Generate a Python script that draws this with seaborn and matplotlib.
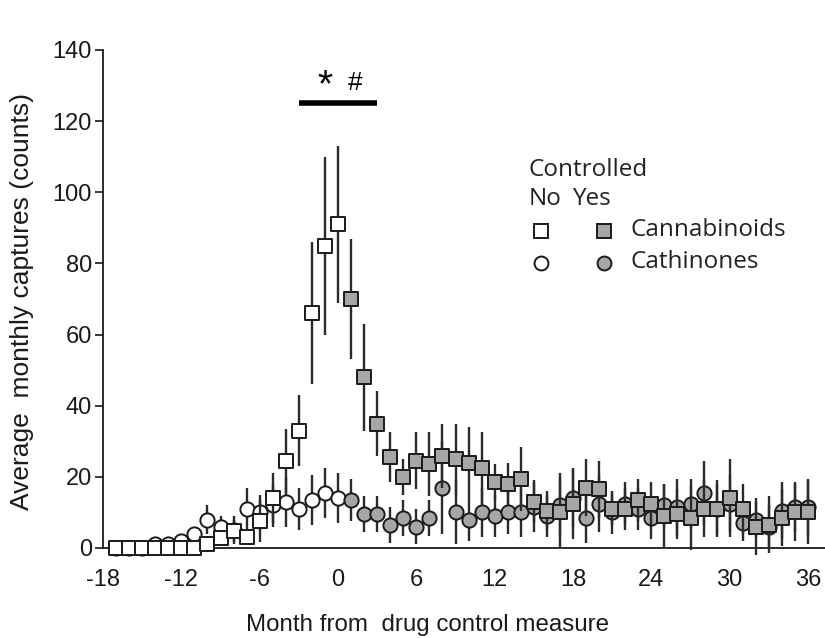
import numpy as np
import pandas as pd
import matplotlib
matplotlib.use("Agg")
import matplotlib.pyplot as plt
import seaborn as sns

# ---- data ----
months = list(range(-17, 37))
cannabinoids = [0, 0, 0, 0, 0, 0, 0, 1, 2.7, 4.8, 3.1, 7.6, 14, 24.5, 33, 66, 85, 91,
                70, 48, 35, 25.5, 20, 24.5, 23.5, 26, 25, 24, 22.5, 18.5, 18, 19.5,
                13, 10.5, 10, 12.5, 17, 16.5, 11, 11, 13.5, 12.5, 9, 9.5, 8.5, 11, 11,
                14, 11, 6, 6.5, 8.5, 10, 10]
cannabinoids_err = [0, 0, 0, 0, 0, 0, 0, 0.5, 1.5, 3, 2, 6, 7, 9, 10, 20, 25, 22,
                    17, 15, 9, 7, 5, 8, 9, 9, 10, 10, 10, 5, 6, 9,
                    6, 5.5, 10, 10, 8, 8, 4.5, 6, 6, 6, 9, 7, 9, 8, 8,
                    11, 7, 8, 8, 8, 8, 9]
cathinones = [0, 0, 0, 1, 1, 2, 4, 8, 6, 5, 11, 10, 12, 13, 11, 13.5, 15.5, 14,
              13.5, 9.5, 9.5, 6.5, 8.5, 6, 8.5, 17, 10, 8, 10, 9, 10, 10,
              11.5, 9, 12, 14, 8.5, 12.5, 10, 12.5, 11, 8.5, 12, 11.5, 12.5, 15.5, 11,
              12.5, 7, 8, 6, 10.5, 11.5, 11.5]
cathinones_err = [0, 0, 0, 0.5, 0.5, 1, 2, 4, 3, 4, 6, 5, 6, 7, 6, 7, 7, 7,
                  6, 5, 5, 5, 5, 5, 5, 13, 9, 6, 7, 6, 6, 7,
                  7, 6, 9, 8, 7, 8, 6, 6, 6, 6, 6, 8, 7, 9, 7,
                  8, 5, 5, 6, 8, 7, 8]
x_ticks = [-18, -12, -6, 0, 6, 12, 18, 24, 30, 36]
y_ticks = [0, 20, 40, 60, 80, 100, 120, 140]

df = pd.DataFrame({
    "month": months * 2,
    "value": cannabinoids + cathinones,
    "err": cannabinoids_err + cathinones_err,
    "drug": ["Cannabinoids"] * len(months) + ["Cathinones"] * len(months),
})
df["controlled"] = np.where(df["month"] >= 1, "Yes", "No")

sns.set_style("ticks")
plt.rcParams["font.family"] = ["Liberation Sans", "DejaVu Sans"]
plt.rcParams["axes.unicode_minus"] = False

fig = plt.figure(figsize=(8.25, 6.38), dpi=100)
ax = fig.add_axes([103 / 825, 1 - 548 / 638, 1 - 103 / 825, (548 - 50) / 638])

edge = "#1a1a1a"
gray = "#a6a6a6"
txt = "#1a1a1a"

# error bars
for drug, z in [("Cathinones", 1), ("Cannabinoids", 3)]:
    d = df[df["drug"] == drug]
    ax.errorbar(d["month"], d["value"], yerr=d["err"], fmt="none",
                ecolor="#2a2a2a", elinewidth=1.7, capsize=0, zorder=z, clip_on=False)

markers = {"Cannabinoids": "s", "Cathinones": "o"}
zord = {"Cannabinoids": 4, "Cathinones": 2}
for drug in ["Cathinones", "Cannabinoids"]:
    for ctrl, fc in [("No", "white"), ("Yes", gray)]:
        d = df[(df["drug"] == drug) & (df["controlled"] == ctrl)]
        sns.scatterplot(data=d, x="month", y="value", ax=ax, marker=markers[drug],
                        s=105, color=fc, edgecolor=edge, linewidth=1.4,
                        zorder=zord[drug], clip_on=False, legend=False)

ax.set_xlim(-18, 37.3)
ax.set_ylim(0, 140)
ax.set_xticks(x_ticks)
ax.set_yticks(y_ticks)
ax.tick_params(axis="x", length=0, labelsize=17, pad=15, colors=txt)
ax.tick_params(axis="y", length=6, width=1.2, labelsize=17, pad=2, colors=txt)
ax.set_xlabel("")
ax.set_ylabel("")
for s in ["top", "right"]:
    ax.spines[s].set_visible(False)
for s in ["left", "bottom"]:
    ax.spines[s].set_linewidth(1.3)
    ax.spines[s].set_color(txt)

fig.text(428 / 825, 1 - 625 / 638, "Month from  drug control measure", ha="center",
         va="center", fontsize=17.4, color=txt)
fig.text(22 / 825, 1 - 302 / 638, "Average  monthly captures (counts)", ha="center",
         va="center", rotation=90, fontsize=19, color=txt)

# significance bar
ax.plot([-3, 3], [125, 125], color="black", lw=4, solid_capstyle="butt", clip_on=False)
ax.text(-1.0, 129.8, "*", ha="center", va="center", fontsize=28, color="black")
ax.text(1.3, 130.8, "#", ha="center", va="center", fontsize=19, color="black")

# legend (manual)
lf = ["Open Sans", "DejaVu Sans"]
def fx(px):
    return px / 825
def fy(py):
    return 1 - py / 638
lfs = 17.5
lc = "#222222"
fig.text(fx(529), fy(170), "Controlled", fontsize=lfs, family=lf, va="center", color=lc)
fig.text(fx(529), fy(199), "No", fontsize=lfs, family=lf, va="center", color=lc)
fig.text(fx(572), fy(199), "Yes", fontsize=lfs, family=lf, va="center", color=lc)
fig.text(fx(631), fy(230), "Cannabinoids", fontsize=lfs, family=lf, va="center", color=lc)
fig.text(fx(631), fy(262), "Cathinones", fontsize=lfs, family=lf, va="center", color=lc)
for (px, py, m, fc) in [(541, 231, "s", "white"), (604, 231, "s", gray),
                        (541, 263, "o", "white"), (604, 263, "o", gray)]:
    fig.lines.append(plt.Line2D([fx(px)], [fy(py)], marker=m, markersize=10,
                                markerfacecolor=fc, markeredgecolor=edge,
                                markeredgewidth=1.4, transform=fig.transFigure))

fig.savefig("out.png", dpi=100)
